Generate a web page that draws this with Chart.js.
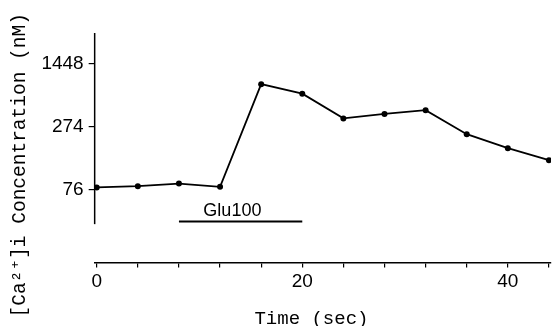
<!DOCTYPE html>
<html>
<head>
<meta charset="utf-8">
<script src="https://cdn.jsdelivr.net/npm/chart.js@4.4.0/dist/chart.umd.min.js"></script>
<style>
  body { margin: 0; background: #fff; }
  canvas { display: block; }
</style>
</head>
<body>
<canvas id="calcium-canvas" width="555" height="326"></canvas>
<script>
// time points (sec)
var times = [0, 4, 8, 12, 16, 20, 24, 28, 32, 36, 40, 44]
// [Ca2+]i on the figure's own equal-step axis (0 = 76 nM, 1 = 274 nM, 2 = 1448 nM)
var calcium = [0.04, 0.06, 0.10, 0.05, 1.67, 1.52, 1.13, 1.20, 1.26, 0.88, 0.66, 0.47]

var yTickValues = [0, 1, 2]
var yTickLabels = ['76', '274', '1448']
var xTickValues = [0, 4, 8, 12, 16, 20, 24, 28, 32, 36, 40, 44]
var xTickLabels = [0, 20, 40]

// glutamate application bar
var stimLabel = 'Glu100'
var stimStart = 8
var stimEnd = 20
var stimLevel = -0.5

var axisFont = "'Liberation Mono', 'DejaVu Sans Mono', monospace"
var tickFont = "'Liberation Sans', Arial, sans-serif"

// y axis line stops short of the x axis in the original figure
var yAxisLine = {
  id: 'yAxisLine',
  afterDraw: function (chart) {
    var ctx = chart.ctx
    var y = chart.scales.y
    var x = chart.scales.x
    ctx.save()
    ctx.strokeStyle = '#000'
    ctx.lineWidth = 1.5
    ctx.beginPath()
    ctx.moveTo(chart.chartArea.left, chart.chartArea.top)
    ctx.lineTo(chart.chartArea.left, y.getPixelForValue(-0.54))
    ctx.stroke()

    // label over the stimulus bar
    ctx.fillStyle = '#000'
    ctx.font = '18px ' + tickFont
    ctx.textAlign = 'center'
    ctx.textBaseline = 'alphabetic'
    ctx.fillText(stimLabel, x.getPixelForValue(13.2), y.getPixelForValue(stimLevel) - 6)
    ctx.restore()
  }
}

var ctx = document.getElementById('calcium-canvas').getContext('2d')
var chart = new Chart(ctx, {
  type: 'line',
  data: {
    datasets: [{
      data: times.map(function (t, i) { return { x: t, y: calcium[i] } }),
      borderColor: '#000',
      backgroundColor: '#000',
      borderWidth: 1.8,
      pointRadius: 3,
      pointBackgroundColor: '#000',
      pointBorderWidth: 0,
      tension: 0
    }, {
      data: [{ x: stimStart, y: stimLevel }, { x: stimEnd, y: stimLevel }],
      borderColor: '#000',
      borderWidth: 2,
      pointRadius: 0
    }]
  },
  options: {
    responsive: false,
    animation: false,
    events: [],
    layout: { padding: { top: 33, left: 0, right: 0, bottom: 0 } },
    plugins: {
      legend: { display: false },
      tooltip: { enabled: false }
    },
    scales: {
      x: {
        type: 'linear',
        min: -0.2,
        max: 44.2,
        afterBuildTicks: function (scale) {
          scale.ticks = xTickValues.map(function (v) { return { value: v } })
        },
        ticks: {
          autoSkip: false,
          maxRotation: 0,
          padding: 3,
          color: '#000',
          font: { family: tickFont, size: 19 },
          callback: function (v) { return xTickLabels.indexOf(v) >= 0 ? String(v) : '' }
        },
        grid: { drawOnChartArea: false, tickLength: 5, color: '#000', lineWidth: 1.2 },
        border: { display: true, color: '#000', width: 1.5 },
        title: {
          display: true,
          text: 'Time (sec)  ',
          color: '#000',
          font: { family: axisFont, size: 19 },
          padding: { top: 11, bottom: -4 }
        }
      },
      y: {
        type: 'linear',
        min: -1.144,
        max: 2.478,
        afterBuildTicks: function (scale) {
          scale.ticks = yTickValues.map(function (v) { return { value: v } })
        },
        ticks: {
          padding: 5,
          color: '#000',
          font: { family: tickFont, size: 19 },
          callback: function (v) { return yTickLabels[yTickValues.indexOf(v)] }
        },
        grid: { drawOnChartArea: false, tickLength: 6, color: '#000', lineWidth: 1.2 },
        border: { display: false },
        title: {
          display: true,
          text: '[Ca²⁺]i Concentration (nM)   ',
          color: '#000',
          font: { family: axisFont, size: 19.5 },
          padding: { top: 8, bottom: 5 }
        }
      }
    }
  },
  plugins: [yAxisLine]
})
</script>
</body>
</html>
